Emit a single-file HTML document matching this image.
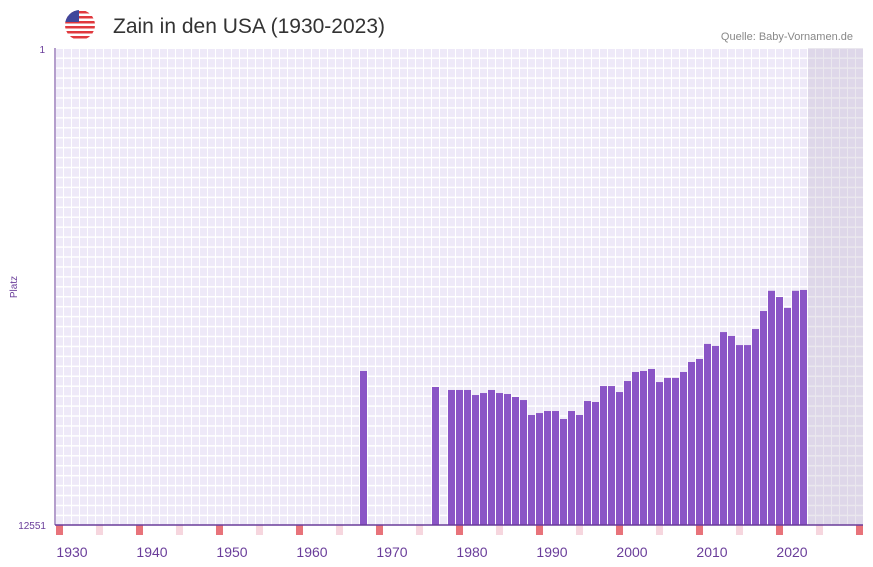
<!DOCTYPE html>
<html><head><meta charset="utf-8"><style>
body{margin:0;background:#fff;font-family:"Liberation Sans",sans-serif}
svg{display:block}
</style></head><body>
<svg id="c" width="873" height="567">
<defs>
<pattern id="grid" x="55" y="48" width="8" height="9.94" patternUnits="userSpaceOnUse">
<rect width="8" height="9.94" fill="#ffffff"/>
<rect x="1" y="1" width="7" height="8.44" fill="#eee9f8"/>
</pattern>
<clipPath id="flagclip"><circle cx="80" cy="25" r="15"/></clipPath>
</defs>
<g clip-path="url(#flagclip)">
<rect x="65" y="10" width="30" height="30" fill="#fff"/>
<rect x="65" y="11" width="30" height="2.5" fill="#e0393e"/>
<rect x="65" y="16" width="30" height="2.5" fill="#e0393e"/>
<rect x="65" y="21" width="30" height="2.5" fill="#e0393e"/>
<rect x="65" y="26" width="30" height="2.5" fill="#e0393e"/>
<rect x="65" y="31" width="30" height="2.5" fill="#e0393e"/>
<rect x="65" y="36" width="30" height="2.5" fill="#e0393e"/>
<rect x="65" y="10" width="14" height="12" fill="#41479b"/>
</g>
<text x="113" y="33" font-size="21" fill="#333">Zain in den USA (1930-2023)</text>
<text x="853" y="40" font-size="11" fill="#888" text-anchor="end">Quelle: Baby-Vornamen.de</text>
<rect x="55" y="48" width="808" height="477" fill="url(#grid)"/>
<rect x="808" y="48" width="55" height="477" fill="#b8b0c8" opacity="0.3"/>
<g id="marks"></g>
<g id="bars"></g>
<line x1="55" y1="48" x2="55" y2="525" stroke="#6a3d9a" stroke-width="1"/>
<line x1="55" y1="525" x2="863" y2="525" stroke="#6a3d9a" stroke-width="1.5"/>
<text x="45" y="53" font-size="10" fill="#6a3d9a" text-anchor="end">1</text>
<text x="46" y="529" font-size="10" fill="#6a3d9a" text-anchor="end">12551</text>
<text x="17" y="287" font-size="10" fill="#6a3d9a" text-anchor="middle" transform="rotate(-90 17 287)">Platz</text>
<g id="xticks"></g>
</svg>
<script>
const years = [1966,1975,1977,1978,1979,1980,1981,1982,1983,1984,1985,1986,1987,1988,1989,1990,1991,1992,1993,1994,1995,1996,1997,1998,1999,2000,2001,2002,2003,2004,2005,2006,2007,2008,2009,2010,2011,2012,2013,2014,2015,2016,2017,2018,2019,2020,2021];
const ranks = [596,818,868,868,868,959,922,868,922,940,997,1059,1424,1370,1316,1316,1541,1316,1424,1080,1101,803,803,904,727,608,596,573,742,684,684,608,499,470,349,363,276,298,357,357,260,182,122,138,171,122,120];
const tickYears = [1930,1940,1950,1960,1970,1980,1990,2000,2010,2020];
const maxRank = 12551;
const NS = "http://www.w3.org/2000/svg";
function x(y){return 392+(y-1970)*8;}
function yScale(r){return 48+Math.log(r)/Math.log(maxRank)*477;}
const bars=document.getElementById('bars');
years.forEach((yr,i)=>{
  const r=document.createElementNS(NS,'rect');
  const top=yScale(ranks[i]);
  r.setAttribute('x',x(yr));r.setAttribute('y',top);
  r.setAttribute('width',7);r.setAttribute('height',525-top);
  r.setAttribute('fill','#8a55c6');
  
  
  bars.appendChild(r);
});
const marks=document.getElementById('marks');
for(let yr=1928;yr<=2028;yr+=5){
  const r=document.createElementNS(NS,'rect');
  r.setAttribute('x',x(yr));r.setAttribute('y',525);
  r.setAttribute('width',7);r.setAttribute('height',10);
  r.setAttribute('fill',(yr%10===8)?'#e8737a':'#f6d6de');
  
  
  marks.appendChild(r);
}
const xt=document.getElementById('xticks');
tickYears.forEach(t=>{
  const tx=document.createElementNS(NS,'text');
  tx.setAttribute('x',x(t));tx.setAttribute('y',557);
  tx.setAttribute('font-size','14');tx.setAttribute('fill','#6a3d9a');
  tx.setAttribute('text-anchor','middle');
  tx.textContent=t;
  
  
  xt.appendChild(tx);
});
</script>
</body></html>
